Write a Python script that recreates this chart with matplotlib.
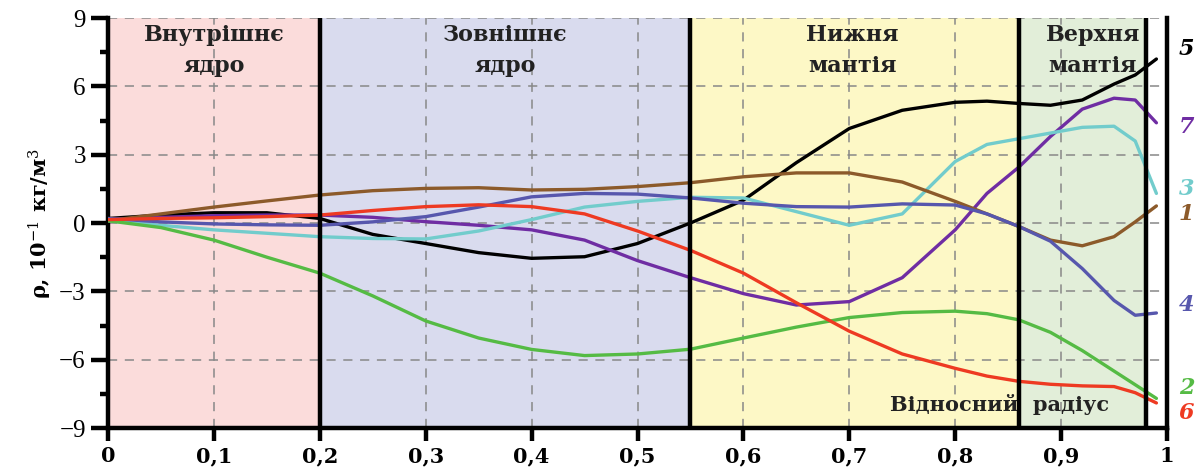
import numpy as np
import matplotlib
matplotlib.use("Agg")
import matplotlib.pyplot as plt

plt.rcParams['font.family'] = ['DejaVu Serif']
plt.rcParams['mathtext.fontset'] = 'dejavuserif'

# relative radius
x = [0, 0.05, 0.1, 0.15, 0.2, 0.25, 0.3, 0.35, 0.4, 0.45, 0.5, 0.55,
     0.6, 0.65, 0.7, 0.75, 0.8, 0.83, 0.86, 0.89, 0.92, 0.95, 0.97, 0.99]

# density curves, 10^-1 kg/m^3
c1 = [0.1, 0.4, 0.7, 0.97, 1.23, 1.42, 1.52, 1.55, 1.45, 1.48, 1.6, 1.77,
      2.03, 2.2, 2.2, 1.8, 0.95, 0.4, -0.15, -0.75, -1.0, -0.6, 0.05, 0.75]
c2 = [0.1, -0.2, -0.75, -1.5, -2.2, -3.2, -4.3, -5.05, -5.55, -5.82, -5.75, -5.54,
      -5.05, -4.57, -4.15, -3.93, -3.87, -3.98, -4.25, -4.8, -5.6, -6.5, -7.1, -7.7]
c3 = [0.1, -0.1, -0.3, -0.45, -0.6, -0.68, -0.7, -0.35, 0.15, 0.7, 0.95, 1.13,
      1.1, 0.5, -0.1, 0.4, 2.7, 3.45, 3.7, 3.95, 4.2, 4.25, 3.6, 1.3]
c4 = [0.2, 0.05, -0.04, -0.08, -0.1, 0.05, 0.28, 0.7, 1.15, 1.3, 1.27, 1.1,
      0.87, 0.72, 0.7, 0.84, 0.79, 0.4, -0.15, -0.8, -2.0, -3.4, -4.05, -3.95]
c5 = [0.2, 0.35, 0.45, 0.45, 0.2, -0.5, -0.9, -1.3, -1.55, -1.48, -0.9, 0.0,
      1.0, 2.65, 4.15, 4.95, 5.3, 5.35, 5.25, 5.17, 5.4, 6.1, 6.5, 7.2]
c6 = [0.15, 0.2, 0.23, 0.28, 0.35, 0.55, 0.72, 0.8, 0.72, 0.4, -0.35, -1.2,
      -2.2, -3.5, -4.75, -5.75, -6.38, -6.72, -6.95, -7.08, -7.15, -7.18, -7.45, -7.9]
c7 = [0.15, 0.25, 0.32, 0.35, 0.35, 0.25, 0.06, -0.1, -0.3, -0.75, -1.65, -2.4,
      -3.1, -3.6, -3.45, -2.4, -0.3, 1.3, 2.45, 3.8, 5.0, 5.48, 5.4, 4.4]

curves = {'1': c1, '2': c2, '3': c3, '4': c4, '5': c5, '6': c6, '7': c7}
colors = {'1': '#8c5a2a', '2': '#55bb44', '3': '#72cccc', '4': '#5757ad',
          '5': '#000000', '6': '#ee3a22', '7': '#6f2da3'}
label_y = {'5': 7.65, '7': 4.2, '3': 1.5, '1': 0.4, '4': -3.6, '2': -7.25, '6': -8.35}

# shells of the Earth
bounds = [0, 0.2, 0.55, 0.86, 0.98]
shell_colors = ['#fbdcdb', '#d9dbee', '#fdf8c6', '#e2eed9']
shell_names = ['Внутрішнє\nядро', 'Зовнішнє\nядро', 'Нижня\nмантія', 'Верхня\nмантія']
shell_text_x = [0.1, 0.375, 0.703, 0.93]

xticks = [0, 0.1, 0.2, 0.3, 0.4, 0.5, 0.6, 0.7, 0.8, 0.9, 1]
xticklabels = ['0', '0,1', '0,2', '0,3', '0,4', '0,5', '0,6', '0,7', '0,8', '0,9', '1']
yticks = [-9, -6, -3, 0, 3, 6, 9]

fig = plt.figure(figsize=(11.99, 4.72), dpi=100)
ax = fig.add_axes([0.0901, 0.0932, 0.8832, 0.8686])

for i in range(4):
    ax.axvspan(bounds[i], bounds[i + 1], color=shell_colors[i], zorder=0.1, lw=0)
    ax.text(shell_text_x[i], 8.75, shell_names[i], ha='center', va='top',
            fontsize=16, fontweight='bold', color='#222222', linespacing=1.55, zorder=2)
for b in bounds[1:]:
    ax.axvline(b, color='black', lw=3.2, zorder=4)

ax.text(0.842, -7.95, 'Відносний  радіус', ha='center', va='center',
        fontsize=15, fontweight='bold', color='#222222', zorder=2)

for k in ['5', '7', '3', '1', '4', '2', '6']:
    ax.plot(x, curves[k], color=colors[k], lw=2.4, zorder=3, solid_capstyle='round')
    ax.text(1.011, label_y[k], k, color=colors[k], fontsize=16, fontweight='bold',
            style='italic', ha='left', va='center', clip_on=False)

ax.set_xlim(0, 1)
ax.set_ylim(-9, 9)
ax.set_xticks(xticks)
ax.set_xticklabels(xticklabels, fontsize=15, fontweight='bold')
ax.set_yticks(yticks)
ax.set_yticklabels([str(v).replace('-', '\u2212') for v in yticks], fontsize=18,
                   family='Liberation Serif')
ax.set_yticks(np.arange(-7.5, 9, 3), minor=True)

ax.grid(True, which='major', color='#888888', lw=1.1, linestyle=(0, (6, 5)))
ax.set_axisbelow(True)

ax.spines['top'].set_visible(False)
for s in ['left', 'bottom', 'right']:
    ax.spines[s].set_linewidth(3.2)
ax.tick_params(axis='x', which='major', length=9, width=3.2, pad=4)
ax.tick_params(axis='y', which='major', length=12, width=3.2, pad=4)
ax.tick_params(axis='y', which='minor', length=6, width=3.2)

ax.set_ylabel(r'ρ, 10$^{-1}$ кг/м$^{3}$', fontsize=15, fontweight='bold', labelpad=4)

fig.savefig('out.png', dpi=100)
